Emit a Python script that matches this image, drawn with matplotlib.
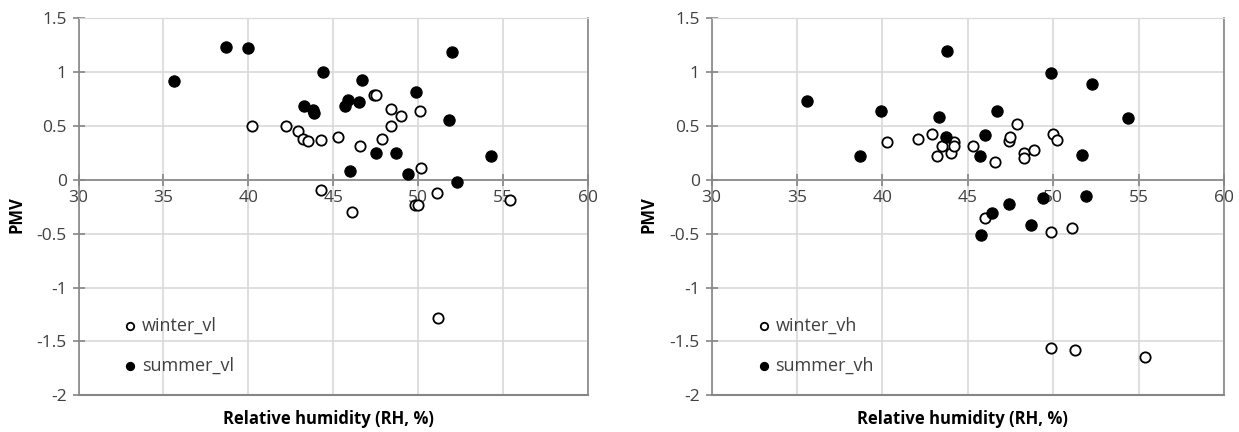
import matplotlib
matplotlib.use("Agg")
import matplotlib.pyplot as plt

# ---- data ----
winter_vl_rh = [40.2, 42.2, 42.9, 43.2, 43.5, 44.3, 44.3, 47.4, 47.5, 48.4, 49.0, 50.1,
                48.4, 45.3, 47.9, 46.6, 50.2, 51.1, 46.1, 49.8, 50.0, 55.4, 51.2]
winter_vl_pmv = [0.50, 0.50, 0.45, 0.38, 0.36, 0.37, -0.09, 0.79, 0.79, 0.66, 0.59, 0.64,
                 0.50, 0.40, 0.38, 0.31, 0.11, -0.12, -0.30, -0.23, -0.23, -0.19, -1.28]
summer_vl_rh = [35.6, 38.7, 40.0, 44.4, 43.3, 43.8, 43.9, 52.0, 46.7, 49.9, 45.9, 45.7,
                46.5, 51.8, 47.5, 48.7, 54.3, 46.0, 49.4, 52.3]
summer_vl_pmv = [0.92, 1.23, 1.22, 1.00, 0.69, 0.65, 0.62, 1.19, 0.93, 0.82, 0.74, 0.69,
                 0.72, 0.56, 0.25, 0.25, 0.22, 0.08, 0.05, -0.02]

winter_vh_rh = [40.3, 42.1, 42.9, 43.5, 43.2, 44.0, 44.2, 44.2, 45.3, 46.6, 47.4, 47.5,
                48.3, 48.3, 48.9, 50.0, 50.2, 47.9, 46.0, 49.9, 51.1, 49.9, 51.3, 55.4]
winter_vh_pmv = [0.35, 0.38, 0.43, 0.31, 0.22, 0.25, 0.35, 0.31, 0.31, 0.17, 0.36, 0.40,
                 0.25, 0.20, 0.28, 0.43, 0.37, 0.52, -0.35, -0.48, -0.45, -1.56, -1.58, -1.64]
summer_vh_rh = [43.8, 35.6, 39.9, 43.3, 43.7, 38.7, 49.9, 52.3, 46.7, 54.4, 46.0, 51.7,
                45.7, 51.9, 49.4, 47.4, 46.4, 48.7, 45.8]
summer_vh_pmv = [1.20, 0.73, 0.64, 0.58, 0.40, 0.22, 0.99, 0.89, 0.64, 0.57, 0.42, 0.23,
                 0.22, -0.15, -0.17, -0.22, -0.31, -0.42, -0.51]

x_ticks = [30, 35, 40, 45, 50, 55, 60]
y_ticks = [-2, -1.5, -1, -0.5, 0, 0.5, 1, 1.5]
y_tick_labels = ["-2", "-1.5", "-1", "-0.5", "0", "0.5", "1", "1.5"]
x_label = "Relative humidity (RH, %)"
y_label = "PMV"

panels = [
    (winter_vl_rh, winter_vl_pmv, summer_vl_rh, summer_vl_pmv, "winter_vl", "summer_vl"),
    (winter_vh_rh, winter_vh_pmv, summer_vh_rh, summer_vh_pmv, "winter_vh", "summer_vh"),
]

plt.rcParams['font.family'] = ['Open Sans', 'DejaVu Sans']

fig = plt.figure(figsize=(12.39, 4.32), dpi=100)
rects = [[0.0634, 0.085, 0.411, 0.8727], [0.5743, 0.085, 0.4136, 0.8727]]

grid_c = '#d9d9d9'
axis_c = '#868686'
text_c = '#404040'

for rect, (wx, wy, sx, sy, wl, sl) in zip(rects, panels):
    ax = fig.add_axes(rect)
    ax.set_xlim(30, 60)
    ax.set_ylim(-2, 1.5)
    ax.set_xticks(x_ticks)
    ax.set_yticks(y_ticks)
    ax.set_yticklabels(y_tick_labels)
    ax.grid(True, color=grid_c, linewidth=1.2, zorder=0)
    ax.set_axisbelow(True)

    ax.spines['bottom'].set_position(('data', 0))
    ax.spines['bottom'].set_color(axis_c)
    ax.spines['bottom'].set_linewidth(1.2)
    ax.spines['left'].set_color(axis_c)
    ax.spines['left'].set_linewidth(1.2)
    ax.spines['right'].set_color(axis_c)
    ax.spines['right'].set_linewidth(1.2)
    ax.spines['top'].set_color(grid_c)
    ax.axhline(-2, color=axis_c, linewidth=1.5, clip_on=False, zorder=1)

    ax.tick_params(axis='both', direction='inout', length=9, width=1.2, color=axis_c,
                   labelsize=12.5, labelcolor=text_c)
    ax.tick_params(axis='x', pad=3)
    ax.tick_params(axis='y', pad=4)

    ax.scatter(wx, wy, s=55, facecolors='white', edgecolors='black', linewidths=1.3,
               zorder=3, label=wl)
    ax.scatter(sx, sy, s=66, facecolors='black', edgecolors='black', linewidths=0.8,
               zorder=3, label=sl)

    ax.set_xlabel(x_label, fontsize=12, fontweight='bold', color='black')
    ax.xaxis.set_label_coords(0.49, -0.04)
    ax.set_ylabel(y_label, fontsize=12, fontweight='bold', color='black')
    ax.yaxis.set_label_coords(-0.105, 0.48)

    ax.legend(loc='lower left', bbox_to_anchor=(0.07, 0.035), frameon=False,
              fontsize=13, markerscale=0.72, handletextpad=0.15, labelspacing=1.2,
              handlelength=1.0, borderaxespad=0, labelcolor=text_c)

fig.savefig("out.png", dpi=100)
